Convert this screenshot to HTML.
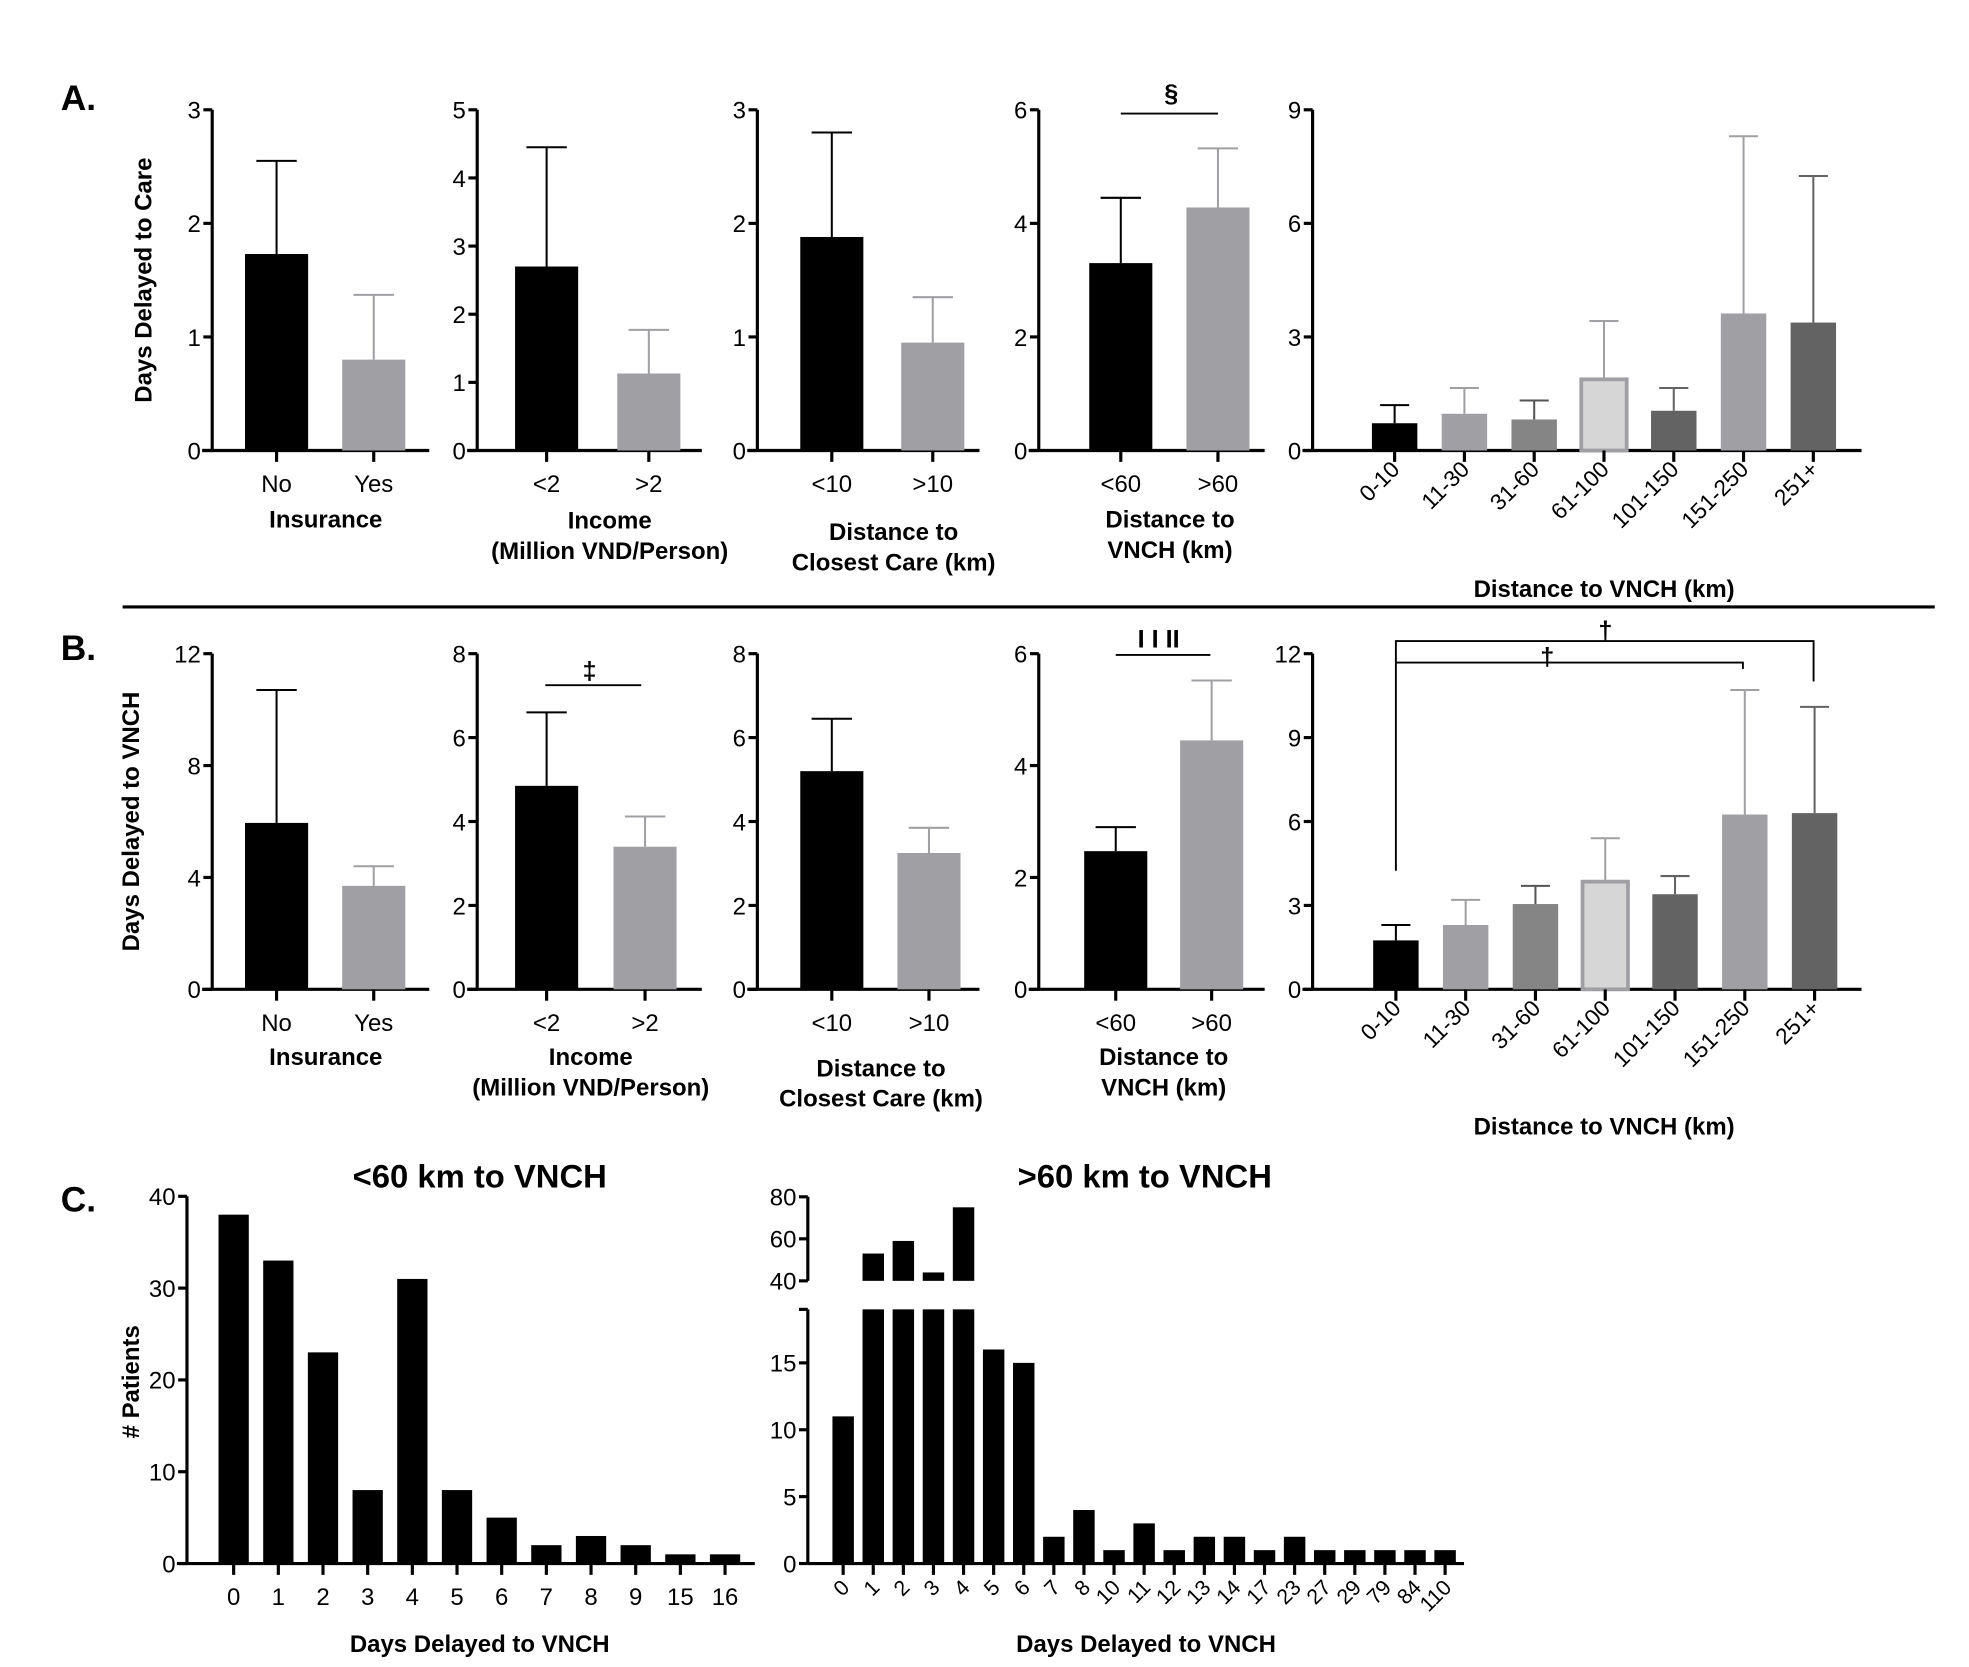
<!DOCTYPE html>
<html><head><meta charset="utf-8"><style>
html,body{margin:0;padding:0;background:#fff;}
svg{display:block;font-family:"Liberation Sans",sans-serif;}
</style></head><body>
<svg id="fig" width="1969" height="1667" viewBox="0 0 1560 1321" xmlns="http://www.w3.org/2000/svg">
<text x="48" y="87" font-size="28" font-weight="bold">A.</text>
<text x="48" y="523" font-size="28" font-weight="bold">B.</text>
<text x="48" y="960" font-size="28" font-weight="bold">C.</text>
<line x1="97" y1="481" x2="1533" y2="481" stroke="#000" stroke-width="2.5"/>
<text transform="translate(120,222) rotate(-90)" text-anchor="middle" font-size="19" font-weight="bold">Days Delayed to Care</text>
<text transform="translate(110,651) rotate(-90)" text-anchor="middle" font-size="19" font-weight="bold">Days Delayed to VNCH</text>
<text transform="translate(110,1095) rotate(-90)" text-anchor="middle" font-size="19" font-weight="bold"># Patients</text>
<g id="g"></g>
</svg>
<script>
// Panel A data
const aInsCats = ["No","Yes"]; const aInsVals = [1.73,0.8]; const aInsErr = [2.55,1.37];
const aIncCats = ["<2",">2"]; const aIncVals = [2.7,1.13]; const aIncErr = [4.45,1.77];
const aCloCats = ["<10",">10"]; const aCloVals = [1.88,0.95]; const aCloErr = [2.8,1.35];
const aDisCats = ["<60",">60"]; const aDisVals = [3.3,4.28]; const aDisErr = [4.45,5.32];
const distCats = ["0-10","11-30","31-60","61-100","101-150","151-250","251+"];
const aDistVals = [0.72,0.97,0.82,1.88,1.05,3.62,3.38]; const aDistErr = [1.2,1.65,1.32,3.42,1.65,8.3,7.25];
// Panel B data
const bInsVals = [5.95,3.7]; const bInsErr = [10.7,4.4];
const bIncVals = [4.85,3.4]; const bIncErr = [6.6,4.12];
const bCloVals = [5.2,3.25]; const bCloErr = [6.45,3.85];
const bDisVals = [2.47,4.45]; const bDisErr = [2.9,5.52];
const bDistVals = [1.75,2.3,3.05,3.85,3.4,6.25,6.3]; const bDistErr = [2.3,3.2,3.7,5.4,4.05,10.7,10.1];
// Panel C data
const c1Cats = ["0","1","2","3","4","5","6","7","8","9","15","16"];
const c1Vals = [38,33,23,8,31,8,5,2,3,2,1,1];
const c2Cats = ["0","1","2","3","4","5","6","7","8","10","11","12","13","14","17","23","27","29","79","84","110"];
const c2Vals = [11,53,59,44,75,16,15,2,4,1,3,1,2,2,1,2,1,1,1,1,1];

const NS="http://www.w3.org/2000/svg";
const G=document.getElementById('g');
function mk(tag,attrs,parent,txt){const e=document.createElementNS(NS,tag);for(const k in attrs)e.setAttribute(k,attrs[k]);if(txt!==undefined)e.textContent=txt;(parent||G).appendChild(e);return e;}

const twoCols=[{f:"#000",e:"#000"},{f:"#a0a0a4",e:"#a0a0a4"}];
const sevenCols=[{f:"#000",e:"#000"},{f:"#a0a0a4",e:"#a0a0a4"},{f:"#858585",e:"#555"},{f:"#d6d6d6",e:"#a0a0a4",s:"#a0a0a4"},{f:"#636363",e:"#636363"},{f:"#a0a0a4",e:"#a0a0a4"},{f:"#636363",e:"#636363"}];

function barChart(o){
  const g=mk('g',{});
  
  
  const y=v=>o.y0-(v/o.max)*(o.y0-o.yTop);
  // y axis
  const ya=mk('line',{x1:o.ax,y1:o.yTop,x2:o.ax,y2:o.y0,stroke:'#000','stroke-width':2.5},g);
  
  
  o.ticks.forEach(t=>{
    mk('line',{x1:o.ax-7,y1:y(t),x2:o.ax,y2:y(t),stroke:'#000','stroke-width':2.5},g);
    const tl=mk('text',{x:o.ax-9,y:y(t)+7,'text-anchor':'end','font-size':19},g,String(t));
    
    
  });
  const xa=mk('line',{x1:o.ax-8,y1:o.y0,x2:o.axEnd,y2:o.y0,stroke:'#000','stroke-width':2.5},g);
  
  
  const n=o.cats.length;
  o.vals.forEach((v,i)=>{
    const cx=o.c0+i*o.step; const c=o.cols[i];
    if(o.err){
      mk('line',{x1:cx,y1:y(v),x2:cx,y2:y(o.err[i]),stroke:c.e,'stroke-width':1.6},g);
      mk('line',{x1:cx-o.w*0.32,y1:y(o.err[i]),x2:cx+o.w*0.32,y2:y(o.err[i]),stroke:c.e,'stroke-width':1.6},g);
    }
    const r=mk('rect',{x:cx-o.w/2,y:y(v),width:o.w,height:o.y0-y(v),fill:c.f},g);
    if(c.s){r.setAttribute('stroke',c.s);r.setAttribute('stroke-width',3);}
    
    
    mk('line',{x1:cx,y1:o.y0,x2:cx,y2:o.y0+9,stroke:'#000','stroke-width':2.5},g);
    let lb;
    if(o.rot){
      lb=mk('text',{transform:`translate(${cx+5},${o.y0+16}) rotate(-45)`,'text-anchor':'end','font-size':o.lf||18},g,o.cats[i]);
    } else {
      lb=mk('text',{x:cx,y:o.y0+33,'text-anchor':'middle','font-size':o.lf||19},g,o.cats[i]);
    }
    
    
  });
  (o.title||[]).forEach((t,j)=>{
    const tt=mk('text',{x:o.tx,y:o.ty+j*24,'text-anchor':'middle','font-size':19,'font-weight':'bold'},g,t);
    
    
  });
  return y;
}
const twoBase={w:50,step:77,cols:twoCols};
// Row A
barChart({...twoBase,name:'a-insurance-chart',cats:aInsCats,vals:aInsVals,err:aInsErr,ax:168,axEnd:340,yTop:87,y0:357,max:3,ticks:[0,1,2,3],c0:219,title:["Insurance"],tx:258,ty:418});
barChart({...twoBase,name:'a-income-chart',cats:aIncCats,vals:aIncVals,err:aIncErr,ax:378,axEnd:556,yTop:87,y0:357,max:5,ticks:[0,1,2,3,4,5],c0:433,step:81,title:["Income","(Million VND/Person)"],tx:483,ty:419});
barChart({...twoBase,name:'a-closest-care-chart',cats:aCloCats,vals:aCloVals,err:aCloErr,ax:600,axEnd:776,yTop:87,y0:357,max:3,ticks:[0,1,2,3],c0:659,step:80,title:["Distance to","Closest Care (km)"],tx:708,ty:428});
const yA4=barChart({...twoBase,name:'a-vnch-distance-chart',cats:aDisCats,vals:aDisVals,err:aDisErr,ax:823,axEnd:1002,yTop:87,y0:357,max:6,ticks:[0,2,4,6],c0:888,title:["Distance to","VNCH (km)"],tx:927,ty:418});
barChart({name:'a-distance-groups-chart',cats:distCats,vals:aDistVals,err:aDistErr,cols:sevenCols,w:36,step:55.3,c0:1105,ax:1040,axEnd:1475,yTop:87,y0:357,max:9,ticks:[0,3,6,9],rot:true,title:["Distance to VNCH (km)"],tx:1271,ty:473});
// Row B
barChart({...twoBase,name:'b-insurance-chart',cats:aInsCats,vals:bInsVals,err:bInsErr,ax:168,axEnd:340,yTop:518,y0:784,max:12,ticks:[0,4,8,12],c0:219,title:["Insurance"],tx:258,ty:844});
barChart({...twoBase,name:'b-income-chart',cats:aIncCats,vals:bIncVals,err:bIncErr,ax:378,axEnd:556,yTop:518,y0:784,max:8,ticks:[0,2,4,6,8],c0:433,step:78,title:["Income","(Million VND/Person)"],tx:468,ty:844});
barChart({...twoBase,name:'b-closest-care-chart',cats:aCloCats,vals:bCloVals,err:bCloErr,ax:600,axEnd:776,yTop:518,y0:784,max:8,ticks:[0,2,4,6,8],c0:659,step:77,title:["Distance to","Closest Care (km)"],tx:698,ty:853});
barChart({...twoBase,name:'b-vnch-distance-chart',cats:aDisCats,vals:bDisVals,err:bDisErr,ax:823,axEnd:1002,yTop:518,y0:784,max:6,ticks:[0,2,4,6],c0:884,step:76,title:["Distance to","VNCH (km)"],tx:922,ty:844});
barChart({name:'b-distance-groups-chart',cats:distCats,vals:bDistVals,err:bDistErr,cols:sevenCols,w:36,step:55.3,c0:1106,ax:1040,axEnd:1475,yTop:518,y0:784,max:12,ticks:[0,3,6,9,12],rot:true,title:["Distance to VNCH (km)"],tx:1271,ty:899});
// Row C
barChart({name:'c-under60-histogram',cats:c1Cats,vals:c1Vals,cols:c1Cats.map(()=>({f:'#000',e:'#000'})),w:24,step:35.4,c0:185,ax:148,axEnd:598,yTop:948,y0:1239,max:40,ticks:[0,10,20,30,40],title:["Days Delayed to VNCH"],tx:380,ty:1309});
// C2 broken axis
(function(){
  const g=mk('g',{});
  
  
  const ax=640,y0=1239,ppuL=10.6,brk=19,upY40=1015,ppuU=1.665;
  const yL=v=>y0-v*ppuL; const yU=v=>upY40-(v-40)*ppuU;
  mk('line',{x1:ax,y1:yL(brk),x2:ax,y2:y0,stroke:'#000','stroke-width':2.5},g);
  mk('line',{x1:ax-7,y1:yL(brk),x2:ax,y2:yL(brk),stroke:'#000','stroke-width':2.5},g);
  mk('line',{x1:ax,y1:yU(80),x2:ax,y2:yU(40),stroke:'#000','stroke-width':2.5},g);
  [0,5,10,15].forEach(t=>{mk('line',{x1:ax-7,y1:yL(t),x2:ax,y2:yL(t),stroke:'#000','stroke-width':2.5},g);
    const tl=mk('text',{x:ax-9,y:yL(t)+7,'text-anchor':'end','font-size':19},g,String(t));
    
    });
  [40,60,80].forEach(t=>{mk('line',{x1:ax-7,y1:yU(t),x2:ax,y2:yU(t),stroke:'#000','stroke-width':2.5},g);
    const tl=mk('text',{x:ax-9,y:yU(t)+7,'text-anchor':'end','font-size':19},g,String(t));
    
    });
  mk('line',{x1:ax,y1:y0,x2:1160,y2:y0,stroke:'#000','stroke-width':2.5},g);
  const c0=668,step=23.85,w=17;
  c2Vals.forEach((v,i)=>{
    const cx=c0+i*step;
    const r=mk('rect',{x:cx-w/2,y:yL(Math.min(v,brk)),width:w,height:y0-yL(Math.min(v,brk)),fill:'#000'},g);
    
    
    if(v>brk){const ru=mk('rect',{x:cx-w/2,y:yU(v),width:w,height:yU(40)-yU(v),fill:'#000'},g);
      
      }
    mk('line',{x1:cx,y1:y0,x2:cx,y2:y0+9,stroke:'#000','stroke-width':2.5},g);
    const lb=mk('text',{transform:`translate(${cx+6},${y0+20}) rotate(-45)`,'text-anchor':'end','font-size':17},g,c2Cats[i]);
    
    
  });
  const tt=mk('text',{x:908,y:1309,'text-anchor':'middle','font-size':19,'font-weight':'bold'},g,"Days Delayed to VNCH");
  
  
})();
// titles
let t1=mk('text',{x:380,y:941,'text-anchor':'middle','font-size':26,'font-weight':'bold'},G,"<60 km to VNCH");


let t2=mk('text',{x:907,y:941,'text-anchor':'middle','font-size':26,'font-weight':'bold'},G,">60 km to VNCH");


// significance markers
function sig(name,pts,lab,lx,ly){
  const p=mk('polyline',{points:pts,fill:'none',stroke:'#000','stroke-width':1.5});
  
  
  const t=mk('text',{x:lx,y:ly,'text-anchor':'middle','font-size':20,'font-weight':'bold'},G,lab);
  
  
}
sig('sig-a-vnch',"888,90 965,90","§",928,81);
sig('sig-b-income',"432,543 508,543","‡",467,538);
sig('sig-b-vnch',"884,519 959,519","I I II",918,513);
sig('sig-b-dist-1',"1106,690 1106,508 1437,508 1437,540","†",1272,506);
sig('sig-b-dist-2',"1106,525 1381,525 1381,530","†",1226,527);
</script>
</body></html>
